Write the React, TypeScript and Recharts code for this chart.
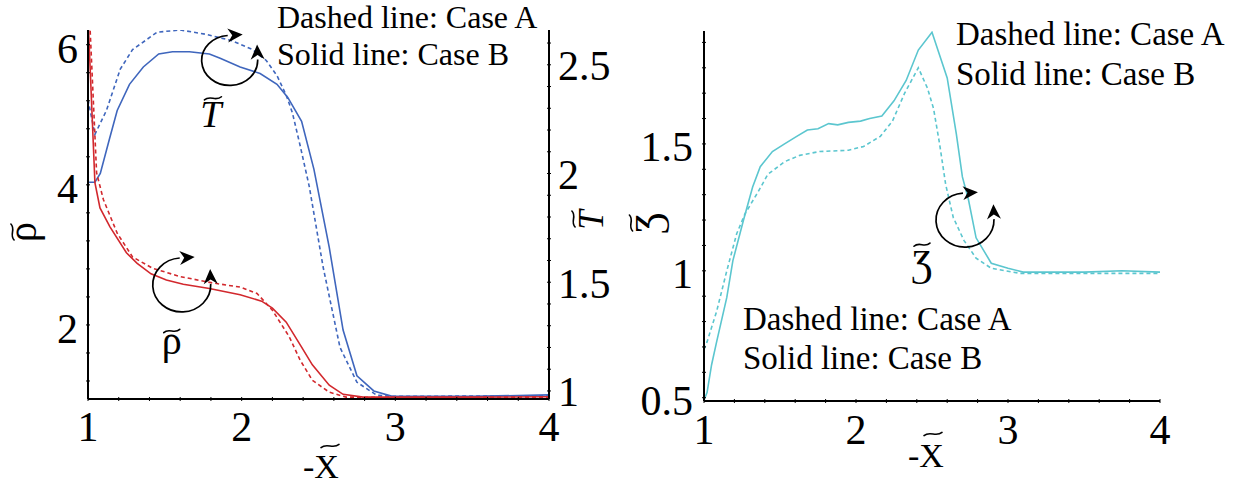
import React from 'react';
import { LineChart, Line, XAxis, YAxis, ReferenceDot } from 'recharts';

const SERIF = '"Liberation Serif", "Times New Roman", "DejaVu Serif", serif';
const BLUE = '#3f66bd';
const RED = '#d2282d';
const CYAN = '#5bc6cf';

// ---------- Left panel data: [-X~, value] ----------
const rhoCaseA: [number, number][] = [
  [1.01, 6.4], [1.056, 4.17], [1.1, 3.79], [1.19, 3.31], [1.29, 2.97], [1.42, 2.81],
  [1.6, 2.69], [1.81, 2.6], [1.99, 2.54], [2.1, 2.45], [2.2, 2.21], [2.31, 1.83],
  [2.38, 1.5], [2.46, 1.21], [2.57, 1.04], [2.68, 0.97], [3.0, 0.965], [4.0, 0.97],
];
const rhoCaseB: [number, number][] = [
  [1.0, 6.4], [1.045, 4.03], [1.078, 3.67], [1.143, 3.4], [1.25, 3.03], [1.32, 2.88],
  [1.41, 2.73], [1.51, 2.64], [1.62, 2.58], [1.79, 2.52], [1.99, 2.43], [2.13, 2.34],
  [2.2, 2.24], [2.29, 2.04], [2.38, 1.72], [2.46, 1.43], [2.57, 1.14], [2.66, 1.01],
  [2.79, 0.97], [3.0, 0.97], [3.5, 0.97], [4.0, 0.975],
];
const tempCaseA: [number, number][] = [
  [1.0, 2.34], [1.045, 2.18], [1.12, 2.29], [1.21, 2.48], [1.29, 2.57], [1.45, 2.65],
  [1.6, 2.66], [1.77, 2.64], [1.94, 2.61], [2.07, 2.57], [2.16, 2.52], [2.23, 2.45],
  [2.29, 2.36], [2.33, 2.28], [2.38, 2.13], [2.44, 1.94], [2.53, 1.57], [2.64, 1.2],
  [2.75, 1.04], [2.88, 0.98], [3.0, 0.975], [4.0, 0.978],
];
const tempCaseB: [number, number][] = [
  [1.0, 1.96], [1.045, 1.96], [1.08, 2.0], [1.14, 2.16], [1.19, 2.29], [1.27, 2.41],
  [1.36, 2.49], [1.46, 2.55], [1.55, 2.56], [1.66, 2.56], [1.79, 2.55], [1.86, 2.53],
  [1.99, 2.49], [2.12, 2.46], [2.23, 2.41], [2.3, 2.35], [2.39, 2.24], [2.47, 2.02],
  [2.57, 1.66], [2.66, 1.28], [2.75, 1.07], [2.86, 1.0], [2.98, 0.975], [3.5, 0.975],
  [4.0, 0.982],
];

// ---------- Right panel data ----------
const zCaseA: [number, number][] = [
  [1.0, 0.69], [1.02, 0.72], [1.083, 0.84], [1.15, 1.0], [1.215, 1.146], [1.27, 1.225],
  [1.355, 1.31], [1.42, 1.38], [1.53, 1.43], [1.63, 1.455], [1.76, 1.47], [1.95, 1.475],
  [2.05, 1.49], [2.16, 1.53], [2.24, 1.59], [2.32, 1.7], [2.41, 1.8], [2.47, 1.72],
  [2.51, 1.64], [2.55, 1.5], [2.59, 1.34], [2.64, 1.21], [2.71, 1.12], [2.79, 1.05],
  [2.89, 1.01], [3.08, 0.99], [4.0, 0.99],
];
const zCaseB: [number, number][] = [
  [1.0, 0.49], [1.02, 0.52], [1.05, 0.63], [1.083, 0.72], [1.15, 0.895], [1.19, 1.04],
  [1.26, 1.2], [1.32, 1.33], [1.37, 1.41], [1.45, 1.47], [1.53, 1.5], [1.61, 1.53],
  [1.68, 1.555], [1.75, 1.56], [1.82, 1.58], [1.88, 1.575], [1.95, 1.585], [2.03, 1.59],
  [2.09, 1.6], [2.17, 1.61], [2.25, 1.67], [2.33, 1.75], [2.41, 1.87], [2.5, 1.94],
  [2.6, 1.76], [2.66, 1.54], [2.7, 1.37], [2.74, 1.28], [2.79, 1.13], [2.89, 1.03],
  [3.0, 1.01], [3.1, 0.995], [3.5, 0.995], [3.75, 1.0], [4.0, 0.995],
];

// ---------- Ticks ----------
const xTicks = [1, 1.2, 1.4, 1.6, 1.8, 2, 2.2, 2.4, 2.6, 2.8, 3, 3.2, 3.4, 3.6, 3.8, 4];
const xTickLabels = ['1', '2', '3', '4'];
const rhoTicks = [1.2, 1.6, 2, 2.4, 2.8, 3.2, 3.6, 4, 4.4, 4.8, 5.2, 5.6, 6];
const rhoTickLabels = ['2', '4', '6'];
const tTicks = [1, 1.1, 1.2, 1.3, 1.4, 1.5, 1.6, 1.7, 1.8, 1.9, 2, 2.1, 2.2, 2.3, 2.4, 2.5, 2.6];
const tTickLabels = ['1', '1.5', '2', '2.5'];
const zTicks = [0.5, 0.6, 0.7, 0.8, 0.9, 1, 1.1, 1.2, 1.3, 1.4, 1.5, 1.6, 1.7, 1.8, 1.9];
const zTickLabels = ['0.5', '1', '1.5'];

const legendLines = ['Dashed line: Case A', 'Solid line: Case B'];

const toPts = (arr: [number, number][]) => arr.map(([x, y]) => ({ x, y }));

const TICK_FS = 42;

const makeTick = (labels: string[], side: 'left' | 'right' | 'bottom', shift: number, gap: number) =>
  (props: any) => {
    const { x, y, payload } = props;
    const v = payload ? payload.value : 0;
    const s = String(v);
    const lab = labels.includes(s) ? s : '';
    if (side === 'bottom') {
      return (
        <g>
          <line x1={x} x2={x} y1={y} y2={y - 4} stroke="#000" strokeWidth={1} />
          {lab && (
            <text x={x} y={y + gap + 0.34 * TICK_FS} textAnchor="middle" fontFamily={SERIF} fontSize={TICK_FS} fill="#000">
              {lab}
            </text>
          )}
        </g>
      );
    }
    const dir = side === 'left' ? 1 : -1;
    return (
      <g>
        <line x1={x} x2={x + dir * 4} y1={y} y2={y} stroke="#000" strokeWidth={1} />
        {lab && (
          <text
            x={side === 'left' ? x - gap : x + gap}
            y={y + shift + 0.34 * TICK_FS}
            textAnchor={side === 'left' ? 'end' : 'start'}
            fontFamily={SERIF}
            fontSize={TICK_FS}
            fill="#000"
          >
            {lab}
          </text>
        )}
      </g>
    );
  };

const tildeD = (cx: number, cy: number, w: number, a: number) => {
  const x0 = cx - w / 2;
  return `M${x0},${cy + a} C${x0 + w / 3},${cy - 2.2 * a} ${x0 + (2 * w) / 3},${cy + 2.2 * a} ${x0 + w},${cy - a}`;
};

const Tilde = ({ cx, cy, w = 16, a = 1.6 }: { cx: number; cy: number; w?: number; a?: number }) => (
  <path d={tildeD(cx, cy, w, a)} fill="none" stroke="#000" strokeWidth={1.6} strokeLinecap="round" />
);

const arrowHead = (bx: number, by: number, dx: number, dy: number, L = 15, W = 7) => {
  const n = Math.hypot(dx, dy);
  const ux = dx / n, uy = dy / n;
  const px = -uy, py = ux;
  const tip = [bx + ux * L, by + uy * L];
  const l = [bx + px * W, by + py * W];
  const r = [bx - px * W, by - py * W];
  const notch = [bx + ux * L * 0.3, by + uy * L * 0.3];
  return `${tip[0]},${tip[1]} ${l[0]},${l[1]} ${notch[0]},${notch[1]} ${r[0]},${r[1]}`;
};

const CircArrow = ({ cx, cy, rx, ry }: { cx: number; cy: number; rx: number; ry: number }) => {
  const t1 = (94 * Math.PI) / 180;
  const t2 = (362 * Math.PI) / 180;
  const x1 = cx + rx * Math.cos(t1), y1 = cy - ry * Math.sin(t1);
  const x2 = cx + rx * Math.cos(t2), y2 = cy - ry * Math.sin(t2);
  const d = `M${x1},${y1} A${rx},${ry} 0 1 0 ${x2},${y2}`;
  return (
    <g>
      <path d={d} fill="none" stroke="#000" strokeWidth={1.7} />
      <polygon points={arrowHead(x1, y1, rx * Math.sin(t1), ry * Math.cos(t1))} fill="#000" />
      <polygon points={arrowHead(x2, y2, -rx * Math.sin(t2), -ry * Math.cos(t2))} fill="#000" />
    </g>
  );
};

const LabelT = ({ cx, cy }: { cx: number; cy: number }) => (
  <g>
    <text x={cx} y={cy + 16} textAnchor="middle" fontFamily={SERIF} fontStyle="italic" fontSize={38} fill="#000">T</text>
    <Tilde cx={cx + 2} cy={cy - 13} w={17} />
  </g>
);
const LabelRho = ({ cx, cy }: { cx: number; cy: number }) => (
  <g>
    <text x={cx} y={cy + 9} textAnchor="middle" fontFamily={SERIF} fontSize={40} fill="#000">ρ</text>
    <Tilde cx={cx} cy={cy - 14} w={16} />
  </g>
);
const LabelZ = ({ cx, cy }: { cx: number; cy: number }) => (
  <g>
    <text x={cx} y={cy + 15} textAnchor="middle" fontFamily={SERIF} fontSize={38} fill="#000">Ʒ</text>
    <Tilde cx={cx} cy={cy - 16} w={16} />
  </g>
);

const axisLineStyle = { stroke: '#000', strokeWidth: 2 };

export default function App() {
  return (
    <div style={{ position: 'absolute', left: 0, top: 0, width: 1240, height: 489, background: '#fff' }}>
      <div style={{ position: 'absolute', left: 0, top: 0 }}>
        <LineChart width={620} height={489} margin={{ top: 30, right: 70, bottom: 89, left: 87 }}>
          <XAxis
            dataKey="x"
            type="number"
            domain={[1, 4]}
            ticks={xTicks}
            interval={0}
            allowDataOverflow
            height={1}
            tickSize={0}
            tickLine={false}
            axisLine={axisLineStyle}
            tick={makeTick(xTickLabels, 'bottom', 0, 26)}
          />
          <YAxis
            yAxisId="rho"
            orientation="left"
            type="number"
            domain={[0.943, 6.21]}
            ticks={rhoTicks}
            interval={0}
            allowDataOverflow
            width={1}
            tickSize={0}
            tickLine={false}
            axisLine={axisLineStyle}
            tick={makeTick(rhoTickLabels, 'left', 4, 8)}
          />
          <YAxis
            yAxisId="T"
            orientation="right"
            type="number"
            domain={[0.963, 2.66]}
            ticks={tTicks}
            interval={0}
            allowDataOverflow
            width={1}
            tickSize={0}
            tickLine={false}
            axisLine={axisLineStyle}
            tick={makeTick(tTickLabels, 'right', 1, 7)}
          />
          <Line yAxisId="T" data={toPts(tempCaseA)} dataKey="y" type="linear" stroke={BLUE} strokeWidth={1.6} strokeDasharray="4 3" dot={false} isAnimationActive={false} />
          <Line yAxisId="T" data={toPts(tempCaseB)} dataKey="y" type="linear" stroke={BLUE} strokeWidth={1.6} dot={false} isAnimationActive={false} />
          <Line yAxisId="rho" data={toPts(rhoCaseA)} dataKey="y" type="linear" stroke={RED} strokeWidth={1.6} strokeDasharray="4 3" dot={false} isAnimationActive={false} />
          <Line yAxisId="rho" data={toPts(rhoCaseB)} dataKey="y" type="linear" stroke={RED} strokeWidth={1.6} dot={false} isAnimationActive={false} />
          <ReferenceDot yAxisId="T" x={1.922} y={2.52} r={0} shape={(p: any) => <CircArrow cx={p.cx} cy={p.cy} rx={28} ry={25} />} />
          <ReferenceDot yAxisId="T" x={1.8} y={2.286} r={0} shape={(p: any) => <LabelT cx={p.cx} cy={p.cy} />} />
          <ReferenceDot yAxisId="rho" x={1.61} y={2.571} r={0} shape={(p: any) => <CircArrow cx={p.cx} cy={p.cy} rx={29} ry={27} />} />
          <ReferenceDot yAxisId="rho" x={1.545} y={1.714} r={0} shape={(p: any) => <LabelRho cx={p.cx} cy={p.cy} />} />
        </LineChart>
      </div>
      <div style={{ position: 'absolute', left: 620, top: 0 }}>
        <LineChart width={620} height={489} margin={{ top: 31, right: 80, bottom: 87, left: 83 }}>
          <XAxis
            dataKey="x"
            type="number"
            domain={[1, 4]}
            ticks={xTicks}
            interval={0}
            allowDataOverflow
            height={1}
            tickSize={0}
            tickLine={false}
            axisLine={axisLineStyle}
            tick={makeTick(xTickLabels, 'bottom', 0, 27)}
          />
          <YAxis
            orientation="left"
            type="number"
            domain={[0.487, 1.945]}
            ticks={zTicks}
            interval={0}
            allowDataOverflow
            width={1}
            tickSize={0}
            tickLine={false}
            axisLine={axisLineStyle}
            tick={makeTick(zTickLabels, 'left', 3, 9)}
          />
          <Line data={toPts(zCaseA)} dataKey="y" type="linear" stroke={CYAN} strokeWidth={1.6} strokeDasharray="4 3" dot={false} isAnimationActive={false} />
          <Line data={toPts(zCaseB)} dataKey="y" type="linear" stroke={CYAN} strokeWidth={1.6} dot={false} isAnimationActive={false} />
          <ReferenceDot x={2.717} y={1.2} r={0} shape={(p: any) => <CircArrow cx={p.cx} cy={p.cy} rx={29} ry={27} />} />
          <ReferenceDot x={2.434} y={1.04} r={0} shape={(p: any) => <LabelZ cx={p.cx} cy={p.cy} />} />
        </LineChart>
      </div>
      <svg width={1240} height={489} style={{ position: 'absolute', left: 0, top: 0, pointerEvents: 'none' }}>
        <g fontFamily={SERIF} fontSize={32} fill="#000">
          <text x={277} y={28}>{legendLines[0]}</text>
          <text x={277} y={65}>{legendLines[1]}</text>
        </g>
        <g fontFamily={SERIF} fontSize={33} fill="#000">
          <text x={956} y={45}>{legendLines[0]}</text>
          <text x={956} y={85}>{legendLines[1]}</text>
          <text x={743} y={330}>{legendLines[0]}</text>
          <text x={743} y={369}>{legendLines[1]}</text>
        </g>
        <g fontFamily={SERIF} fontSize={34} fill="#000">
          <text x={303} y={478}>-X</text>
          <text x={908} y={467}>-X</text>
        </g>
        <Tilde cx={330} cy={446} w={18} />
        <Tilde cx={933} cy={434} w={18} />
        <g transform="translate(27,232) rotate(-90)">
          <text x={0} y={8.5} textAnchor="middle" fontFamily={SERIF} fontSize={40} fill="#000">ρ</text>
          <Tilde cx={0} cy={-14.5} w={16} />
        </g>
        <g transform="translate(586,220) rotate(-90)">
          <text x={0} y={17} textAnchor="middle" fontFamily={SERIF} fontStyle="italic" fontSize={35} fill="#000">T</text>
          <Tilde cx={1} cy={-12.5} w={16} />
        </g>
        <g transform="translate(646,223) rotate(-90)">
          <text x={0} y={15} textAnchor="middle" fontFamily={SERIF} fontSize={38} fill="#000">Ʒ</text>
          <Tilde cx={0} cy={-15} w={16} />
        </g>
      </svg>
    </div>
  );
}
